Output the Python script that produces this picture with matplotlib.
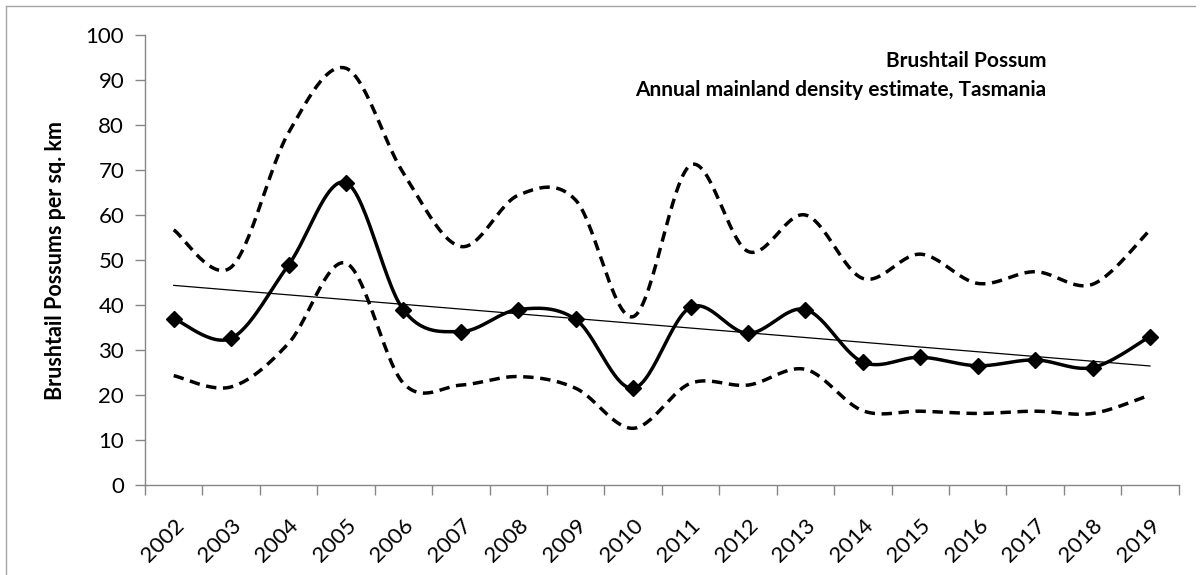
import numpy as np
import matplotlib
matplotlib.use('Agg')
import matplotlib.pyplot as plt
from matplotlib.lines import Line2D

plt.rcParams['font.family'] = ['Lato', 'DejaVu Sans']

# Dati
years = list(range(2002, 2020))
density = [37.0, 32.6, 48.9, 67.2, 38.9, 34.1, 39.0, 36.8, 21.5,
           39.5, 33.7, 39.0, 27.3, 28.4, 26.5, 27.8, 26.1, 33.0]
upper = [56.7, 48.4, 78.3, 92.6, 69.3, 53.0, 64.4, 63.3, 37.4,
         71.1, 51.9, 60.0, 45.9, 51.3, 44.8, 47.4, 44.6, 56.7]
lower = [24.3, 21.8, 31.5, 49.3, 22.6, 22.2, 24.1, 21.5, 12.6,
         22.6, 22.2, 25.7, 16.5, 16.4, 15.9, 16.4, 15.9, 20.0]


def smooth(xs, ys, n=30):
    # Curva "smoothed" stile Excel (Catmull-Rom tramite Bezier cubiche)
    xs = np.asarray(xs, float)
    ys = np.asarray(ys, float)
    px = np.concatenate([[xs[0]], xs, [xs[-1]]])
    py = np.concatenate([[ys[0]], ys, [ys[-1]]])
    out_x, out_y = [], []
    t = np.linspace(0, 1, n)
    for i in range(1, len(px) - 2):
        p0 = np.array([px[i], py[i]])
        p3 = np.array([px[i + 1], py[i + 1]])
        c1 = p0 + (np.array([px[i + 1], py[i + 1]]) - np.array([px[i - 1], py[i - 1]])) / 6
        c2 = p3 - (np.array([px[i + 2], py[i + 2]]) - np.array([px[i], py[i]])) / 6
        b = ((1 - t) ** 3)[:, None] * p0 + (3 * (1 - t) ** 2 * t)[:, None] * c1 \
            + (3 * (1 - t) * t ** 2)[:, None] * c2 + (t ** 3)[:, None] * p3
        out_x.extend(b[:, 0])
        out_y.extend(b[:, 1])
    return np.array(out_x), np.array(out_y)


x = np.arange(len(years)) + 0.5

fig = plt.figure(figsize=(12.04, 5.75), dpi=100)
ax = fig.add_axes([145 / 1204, 1 - 485 / 575, (1178.7 - 145) / 1204, 450 / 575])

# Bordo esterno del grafico (solo lato superiore e sinistro visibili)
top_y = 1 - 6 / 575
left_x = 5.5 / 1204
fig.lines.append(Line2D([left_x, 1195 / 1204], [top_y, top_y], transform=fig.transFigure,
                        color='#a6a6a6', linewidth=1.0))
fig.lines.append(Line2D([left_x, left_x], [0, top_y], transform=fig.transFigure,
                        color='#a6a6a6', linewidth=1.0))

dash = (0, (3.0, 1.9))
sx, sy = smooth(x, upper)
ax.plot(sx, sy, color='black', linewidth=2.5, linestyle=dash)
sx, sy = smooth(x, lower)
ax.plot(sx, sy, color='black', linewidth=2.5, linestyle=dash)
sx, sy = smooth(x, density)
ax.plot(sx, sy, color='black', linewidth=2.5)
ax.plot(x, density, linestyle='none', marker='D', markersize=8, color='black')

# Linea di tendenza lineare
coef = np.polyfit(x, density, 1)
ax.plot([x[0], x[-1]], np.polyval(coef, [x[0], x[-1]]), color='black', linewidth=0.9)

ax.set_xlim(0, len(years))
ax.set_ylim(0, 100)
ax.set_yticks(np.arange(0, 101, 10))
ax.set_xticks(np.arange(0, len(years) + 1))
ax.set_xticklabels([])
ax.set_xticks(x, minor=True)
ax.set_xticklabels([str(y) for y in years], minor=True, rotation=45,
                   ha='right', va='top', rotation_mode='anchor', fontsize=16)
ax.tick_params(axis='x', which='minor', length=0, pad=22)
ax.tick_params(axis='x', which='major', length=7, width=1, color='#868686', direction='out')
ax.tick_params(axis='y', length=7, width=1, color='#868686', direction='out',
               labelsize=16, pad=8)

for s in ['top', 'right']:
    ax.spines[s].set_visible(False)
for s in ['left', 'bottom']:
    ax.spines[s].set_color('#868686')
    ax.spines[s].set_linewidth(1.0)

ax.set_ylabel('Brushtail Possums per sq. km', fontsize=15.5, fontweight='bold', labelpad=14)

fig.text(1046 / 1204, 1 - 61 / 575, 'Brushtail Possum', ha='right', va='center',
         fontsize=15, fontweight='bold')
fig.text(1046 / 1204, 1 - 90 / 575, 'Annual mainland density estimate, Tasmania',
         ha='right', va='center', fontsize=15, fontweight='bold')

fig.savefig('out.png', dpi=100)
